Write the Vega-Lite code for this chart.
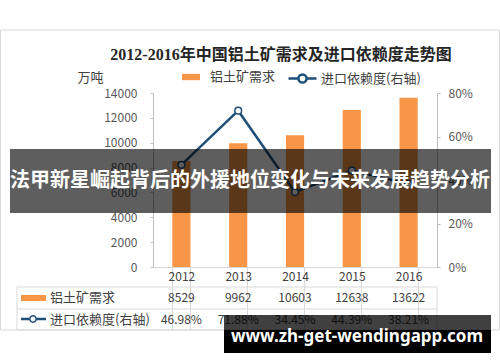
{
  "$schema": "https://vega.github.io/schema/vega-lite/v6.json",
  "width": 284,
  "height": 174,
  "autosize": "none",
  "padding": {"left": 153, "top": 93, "right": 63, "bottom": 95},
  "background": "white",
  "config": {"view": {"stroke": null}, "font": "Noto Sans CJK SC"},
  "title": {
    "text": "2012-2016年中国铝土矿需求及进口依赖度走势图",
    "font": "Liberation Serif, Noto Sans CJK SC",
    "fontSize": 16,
    "fontWeight": "bold",
    "color": "#262626",
    "anchor": "middle",
    "dx": -14,
    "offset": -33
  },
  "data": {
    "values": [
      {"year": "2012", "demand": 8529, "dep": 0.4698},
      {"year": "2013", "demand": 9962, "dep": 0.7188},
      {"year": "2014", "demand": 10603, "dep": 0.3445},
      {"year": "2015", "demand": 12638, "dep": 0.4439},
      {"year": "2016", "demand": 13622, "dep": 0.3821}
    ]
  },
  "resolve": {"scale": {"y": "independent"}},
  "layer": [
    {
      "data": {"values": [{}]},
      "mark": {"type": "rect", "fillOpacity": 0, "stroke": "#d9d9d9", "strokeWidth": 1},
      "encoding": {"x": {"value": -152.5}, "x2": {"value": 346.5}, "y": {"value": -63}, "y2": {"value": 237}}
    },
    {
      "mark": {"type": "bar", "width": {"band": 1}},
      "encoding": {
        "x": {
          "field": "year", "type": "nominal",
          "scale": {"paddingInner": 0.68, "paddingOuter": 0.34},
          "axis": {
            "title": null, "labelAngle": 0, "labelFontSize": 12, "labelColor": "#404040",
            "domainColor": "#d9d9d9", "tickColor": "#d9d9d9", "tickBand": "extent",
            "tickSize": 63, "labelPadding": -59
          }
        },
        "y": {
          "field": "demand", "type": "quantitative",
          "scale": {"domain": [0, 14000], "nice": false},
          "axis": {
            "title": "万吨", "titleAngle": 0, "titleX": -63, "titleY": -16,
            "titleAlign": "center", "titleBaseline": "middle", "titleFontSize": 13,
            "titleFontWeight": "normal", "titleColor": "#404040",
            "values": [0, 2000, 4000, 6000, 8000, 10000, 12000, 14000],
            "format": "d", "labelFontSize": 12, "labelColor": "#595959",
            "domainColor": "#bfbfbf", "tickColor": "#bfbfbf", "tickSize": 3,
            "labelPadding": 13, "grid": false
          }
        },
        "fill": {
          "datum": "铝土矿需求", "type": "nominal",
          "scale": {"range": ["#F79646"]},
          "legend": {
            "orient": "none", "legendX": 29, "legendY": -25, "title": null,
            "symbolType": "M-1,-0.35H1V0.35H-1Z", "symbolSize": 324,
            "symbolStrokeWidth": 0, "labelFontSize": 13, "labelColor": "#404040",
            "labelOffset": 10, "padding": 0
          }
        }
      }
    },
    {
      "encoding": {
        "x": {"field": "year", "type": "nominal"},
        "y": {
          "field": "dep", "type": "quantitative",
          "scale": {"domain": [0, 0.8], "nice": false},
          "axis": {
            "orient": "right", "title": null, "values": [0, 0.2, 0.4, 0.6, 0.8],
            "format": ".0%", "labelFontSize": 12, "labelColor": "#595959",
            "domainColor": "#bfbfbf", "tickColor": "#bfbfbf", "tickSize": 3,
            "labelPadding": 8, "grid": false
          }
        }
      },
      "layer": [
        {
          "mark": {"type": "line", "strokeWidth": 2.5},
          "encoding": {
            "stroke": {
              "datum": "进口依赖度(右轴)", "type": "nominal",
              "scale": {"range": ["#1F4E79"]},
              "legend": {
                "orient": "none", "legendX": 134, "legendY": -30, "title": null,
                "symbolType": "M-1,0H-0.29M0.29,0H1M0.29,0A0.29,0.29,0,1,1,-0.29,0A0.29,0.29,0,1,1,0.29,0Z",
                "symbolSize": 784, "symbolStrokeWidth": 2.5, "symbolFillColor": "white",
                "labelFontSize": 13, "labelColor": "#404040", "labelOffset": 3, "padding": 0
              }
            }
          }
        },
        {
          "mark": {"type": "point", "shape": "circle", "filled": true, "fill": "white", "stroke": "#1F4E79", "strokeWidth": 1.5, "size": 45, "opacity": 1}
        }
      ]
    },
    {
      "mark": {"type": "text", "fontSize": 12, "color": "#404040"},
      "encoding": {
        "x": {"field": "year", "type": "nominal"},
        "y": {"value": 205},
        "text": {"field": "demand", "type": "quantitative", "format": "d"}
      }
    },
    {
      "mark": {"type": "text", "fontSize": 12, "color": "#404040"},
      "encoding": {
        "x": {"field": "year", "type": "nominal"},
        "y": {"value": 227},
        "text": {"field": "dep", "type": "quantitative", "format": ".2%"}
      }
    },
    {
      "data": {"values": [{}]},
      "mark": {"type": "rect", "fillOpacity": 0, "stroke": "#d9d9d9", "strokeWidth": 1},
      "encoding": {"x": {"value": -136}, "x2": {"value": 284}, "y": {"value": 194}, "y2": {"value": 237}}
    },
    {
      "data": {"values": [{}]},
      "mark": {"type": "rule", "stroke": "#d9d9d9", "strokeWidth": 1},
      "encoding": {"x": {"value": -136}, "x2": {"value": 284}, "y": {"value": 216}}
    },
    {
      "data": {"values": [{}]},
      "mark": {"type": "rect", "fill": "#F79646"},
      "encoding": {"x": {"value": -132}, "x2": {"value": -107}, "y": {"value": 202}, "y2": {"value": 208}}
    },
    {
      "data": {"values": [{}]},
      "mark": {"type": "rule", "stroke": "#1F4E79", "strokeWidth": 2.5},
      "encoding": {"x": {"value": -132}, "x2": {"value": -107}, "y": {"value": 226}}
    },
    {
      "data": {"values": [{}]},
      "mark": {"type": "point", "shape": "circle", "filled": true, "fill": "white", "stroke": "#1F4E79", "strokeWidth": 1.5, "size": 40, "opacity": 1},
      "encoding": {"x": {"value": -120}, "y": {"value": 226}}
    },
    {
      "data": {"values": [{"label": "铝土矿需求"}]},
      "mark": {"type": "text", "fontSize": 13, "color": "#404040", "align": "left", "baseline": "middle"},
      "encoding": {"x": {"value": -103}, "y": {"value": 205}, "text": {"field": "label"}}
    },
    {
      "data": {"values": [{"label": "进口依赖度(右轴)"}]},
      "mark": {"type": "text", "fontSize": 13, "color": "#404040", "align": "left", "baseline": "middle"},
      "encoding": {"x": {"value": -103}, "y": {"value": 227}, "text": {"field": "label"}}
    },
    {
      "data": {"values": [{}]},
      "mark": {"type": "rect", "fill": "black", "opacity": 0.63},
      "encoding": {"x": {"value": -143}, "x2": {"value": 338}, "y": {"value": 56}, "y2": {"value": 120}}
    },
    {
      "data": {"values": [{"label": "法甲新星崛起背后的外援地位变化与未来发展趋势分析"}]},
      "mark": {"type": "text", "fontSize": 20, "fontWeight": "bold", "color": "white", "align": "center", "baseline": "middle"},
      "encoding": {"x": {"value": 97}, "y": {"value": 88}, "text": {"field": "label"}}
    },
    {
      "data": {"values": [{}]},
      "mark": {"type": "rect", "fill": "black", "opacity": 0.75},
      "encoding": {"x": {"value": 71}, "x2": {"value": 338}, "y": {"value": 222}, "y2": {"value": 237}}
    },
    {
      "data": {"values": [{}]},
      "mark": {"type": "rect", "fill": "black"},
      "encoding": {"x": {"value": 71}, "x2": {"value": 338}, "y": {"value": 237}, "y2": {"value": 260}}
    },
    {
      "data": {"values": [{"label": "www.zh-get-wendingapp.com"}]},
      "mark": {"type": "text", "font": "Noto Sans", "fontSize": 17, "fontWeight": "bold", "color": "white", "align": "center", "baseline": "middle"},
      "encoding": {"x": {"value": 204}, "y": {"value": 244}, "text": {"field": "label"}}
    }
  ]
}
